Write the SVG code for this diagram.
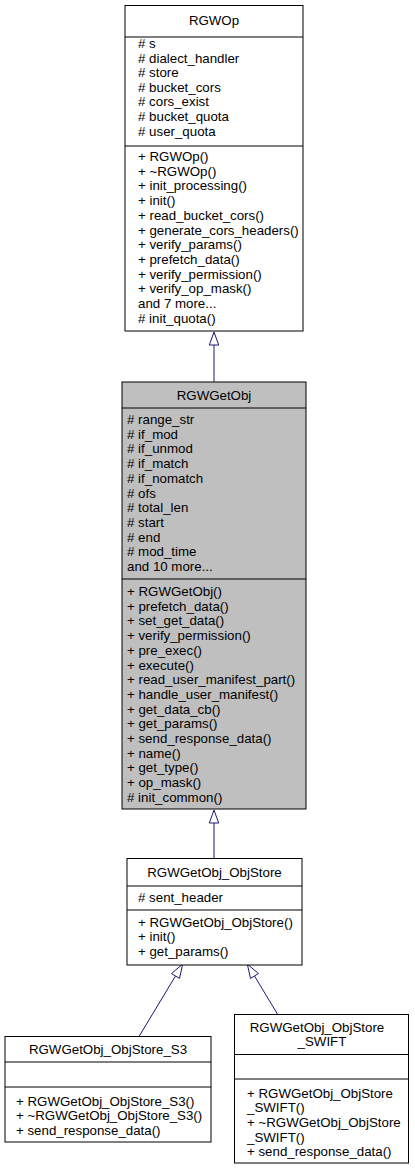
<svg xmlns="http://www.w3.org/2000/svg" width="415" height="1171" viewBox="0 0 415 1171">
<style>
.box{fill:#ffffff;stroke:#000000;stroke-width:1}
.gray{fill:#bfbfbf}
.sep{stroke:#000000;stroke-width:1}
text{font-family:"Liberation Sans",Arial,sans-serif;font-size:13.3px;fill:#000000}
.c{text-anchor:middle}
.edge{stroke:#191970;stroke-width:1;fill:none}
.head{fill:#ffffff;stroke:#191970;stroke-width:1}
</style>
<rect width="415" height="1171" fill="#ffffff"/>
<g id="connectors">
<line class="edge" x1="214" y1="345" x2="214" y2="382"/>
<polygon class="head" points="214,332 209.3,345 218.7,345"/>
<line class="edge" x1="214" y1="823" x2="214" y2="858"/>
<polygon class="head" points="214,810 209.3,823 218.7,823"/>
<line class="edge" x1="175.5" y1="976" x2="139.3" y2="1036"/>
<polygon class="head" points="182.7,964 179.5,978.4 171.5,973.6"/>
<line class="edge" x1="254.5" y1="976" x2="277.4" y2="1014"/>
<polygon class="head" points="247.3,964 258.5,973.6 250.5,978.4"/>
</g>
<g id="RGWOp">
<rect class="box" x="125" y="5.5" width="178" height="325.5"/>
<line class="sep" x1="125" y1="37" x2="303" y2="37"/>
<line class="sep" x1="125" y1="146" x2="303" y2="146"/>
<text class="c" x="214" y="25">RGWOp</text>
<text x="138" y="48"># s</text>
<text x="138" y="62.6"># dialect_handler</text>
<text x="138" y="77.2"># store</text>
<text x="138" y="91.8"># bucket_cors</text>
<text x="138" y="106.4"># cors_exist</text>
<text x="138" y="121"># bucket_quota</text>
<text x="138" y="135.6"># user_quota</text>
<text x="138" y="161">+ RGWOp()</text>
<text x="138" y="175.7">+ ~RGWOp()</text>
<text x="138" y="190.4">+ init_processing()</text>
<text x="138" y="205.1">+ init()</text>
<text x="138" y="219.8">+ read_bucket_cors()</text>
<text x="138" y="234.5">+ generate_cors_headers()</text>
<text x="138" y="249.2">+ verify_params()</text>
<text x="138" y="263.9">+ prefetch_data()</text>
<text x="138" y="278.6">+ verify_permission()</text>
<text x="138" y="293.3">+ verify_op_mask()</text>
<text x="138" y="308">and 7 more...</text>
<text x="138" y="322.7"># init_quota()</text>
</g>
<g id="RGWGetObj">
<rect class="box gray" x="122" y="382" width="184" height="427"/>
<line class="sep" x1="122" y1="408" x2="306" y2="408"/>
<line class="sep" x1="122" y1="579" x2="306" y2="579"/>
<text class="c" x="214" y="400">RGWGetObj</text>
<text x="127" y="424"># range_str</text>
<text x="127" y="438.7"># if_mod</text>
<text x="127" y="453.4"># if_unmod</text>
<text x="127" y="468.1"># if_match</text>
<text x="127" y="482.8"># if_nomatch</text>
<text x="127" y="497.5"># ofs</text>
<text x="127" y="512.2"># total_len</text>
<text x="127" y="526.9"># start</text>
<text x="127" y="541.6"># end</text>
<text x="127" y="556.3"># mod_time</text>
<text x="127" y="571">and 10 more...</text>
<text x="127" y="596">+ RGWGetObj()</text>
<text x="127" y="610.7">+ prefetch_data()</text>
<text x="127" y="625.4">+ set_get_data()</text>
<text x="127" y="640.1">+ verify_permission()</text>
<text x="127" y="654.8">+ pre_exec()</text>
<text x="127" y="669.5">+ execute()</text>
<text x="127" y="684.2">+ read_user_manifest_part()</text>
<text x="127" y="698.9">+ handle_user_manifest()</text>
<text x="127" y="713.6">+ get_data_cb()</text>
<text x="127" y="728.3">+ get_params()</text>
<text x="127" y="743">+ send_response_data()</text>
<text x="127" y="757.7">+ name()</text>
<text x="127" y="772.4">+ get_type()</text>
<text x="127" y="787.1">+ op_mask()</text>
<text x="127" y="801.8"># init_common()</text>
</g>
<g id="RGWGetObj_ObjStore">
<rect class="box" x="127" y="858.5" width="175" height="106.5"/>
<line class="sep" x1="127" y1="886" x2="302" y2="886"/>
<line class="sep" x1="127" y1="910" x2="302" y2="910"/>
<text class="c" x="214.5" y="876.5">RGWGetObj_ObjStore</text>
<text x="138" y="902"># sent_header</text>
<text x="138" y="926.5">+ RGWGetObj_ObjStore()</text>
<text x="138" y="941.2">+ init()</text>
<text x="138" y="955.9">+ get_params()</text>
</g>
<g id="RGWGetObj_ObjStore_S3">
<rect class="box" x="5" y="1036.5" width="206" height="105.5"/>
<line class="sep" x1="5" y1="1062" x2="211" y2="1062"/>
<line class="sep" x1="5" y1="1087" x2="211" y2="1087"/>
<text class="c" x="108" y="1053.5">RGWGetObj_ObjStore_S3</text>
<text x="16" y="1105.5">+ RGWGetObj_ObjStore_S3()</text>
<text x="16" y="1120.2">+ ~RGWGetObj_ObjStore_S3()</text>
<text x="16" y="1134.9">+ send_response_data()</text>
</g>
<g id="RGWGetObj_ObjStore_SWIFT">
<rect class="box" x="234.5" y="1014.5" width="174" height="148.5"/>
<line class="sep" x1="234.5" y1="1054.5" x2="408.5" y2="1054.5"/>
<line class="sep" x1="234.5" y1="1079" x2="408.5" y2="1079"/>
<text class="c" x="317" y="1032">RGWGetObj_ObjStore</text>
<text class="c" x="322" y="1046">_SWIFT</text>
<text x="247" y="1097.5">+ RGWGetObj_ObjStore</text>
<text x="247" y="1112.2">_SWIFT()</text>
<text x="247" y="1126.9">+ ~RGWGetObj_ObjStore</text>
<text x="247" y="1141.6">_SWIFT()</text>
<text x="247" y="1156.3">+ send_response_data()</text>
</g>
</svg>
